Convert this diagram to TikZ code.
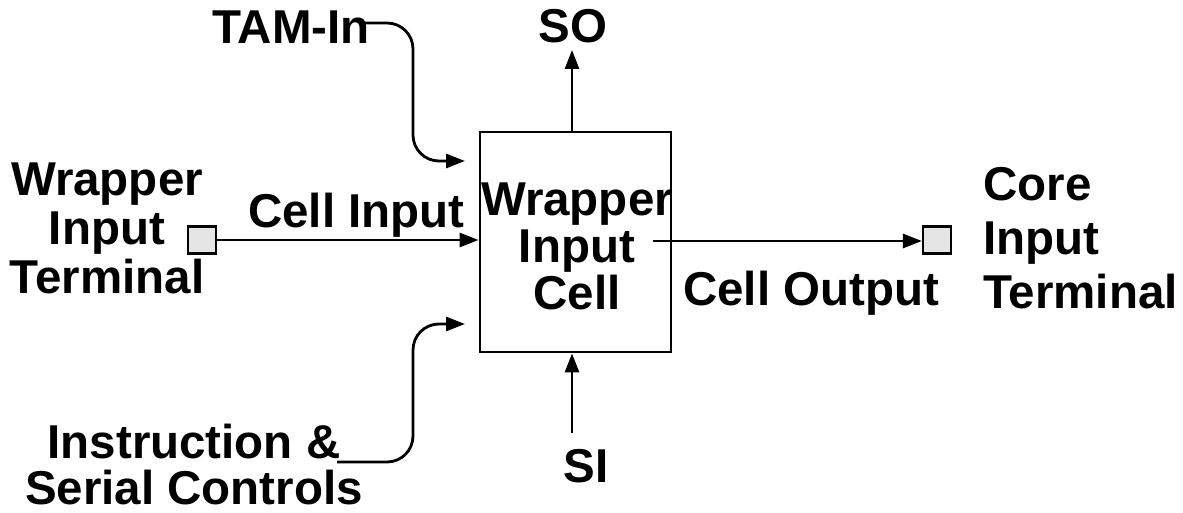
\documentclass[tikz,border=0pt]{standalone}
\usepackage{fontspec}
\setmainfont{Liberation Sans}
\usetikzlibrary{arrows.meta}
\begin{document}
\begin{tikzpicture}[x=1pt,y=-1pt,
  lbl/.style={font=\fontsize{47.5}{48}\selectfont\bfseries, inner sep=0pt},
  wire/.style={line width=2.8pt},
  arr/.style={wire,-{Triangle[length=19pt,width=14pt]}},
  term/.style={draw, line width=2.2pt, fill=black!10, minimum width=28pt, minimum height=27pt, inner sep=0pt},
  cellbox/.style={draw, line width=2.8pt, minimum width=191pt, minimum height=220pt, inner sep=0pt, align=center}]
\useasboundingbox (0,0) rectangle (1183,513);
% box
\node[cellbox] (cell) at (575.5,242) {};
\node[lbl, align=center, font=\fontsize{47.5}{47}\selectfont\bfseries] (celltxt) at (577,246) {Wrapper\\Input\\Cell};
% terminals
\node[term] (win) at (202,240) {};
\node[term] (cin) at (937,240) {};
% labels
\node[lbl, align=center, font=\fontsize{47.5}{49}\selectfont\bfseries] (wlab) at (107,228) {Wrapper\\Input\\Terminal};
\node[lbl, align=left, anchor=west, font=\fontsize{47.5}{54}\selectfont\bfseries] (clab) at (983,238.5) {Core\\Input\\Terminal};
\node[lbl, anchor=base west] (ci) at (248,228) {Cell Input};
\node[lbl, anchor=base west] (co) at (683,305) {Cell Output};
\node[lbl, anchor=base west] (tam) at (212,44) {TAM-In};
\node[lbl, anchor=base] (so) at (573,43) {SO};
\node[lbl, anchor=base] (si) at (586,482) {SI};
\node[lbl, align=center, font=\fontsize{47.5}{46}\selectfont\bfseries] (isc) at (194,465) {Instruction \&\\Serial Controls};
% coordinates
\coordinate (tamA) at (360,23);
\coordinate (tamB) at (465,161);
\coordinate (iscA) at (337,462);
\coordinate (iscB) at (465,324);
\coordinate (coutA) at (653,241);
\coordinate (soB) at (572,50);
\coordinate (siA) at (572,433);
% connectors
\draw[arr] (win.east) -- (cell.west |- win.east);
\draw[arr] (coutA) -- (cin.west |- coutA);
\draw[arr] (cell.north -| soB) -- (soB);
\draw[arr] (siA) -- (cell.south -| siA);
\draw[arr, rounded corners=26pt] (tamA) -- (413,23) -- (413,161) -- (tamB);
\draw[arr, rounded corners=26pt] (iscA) -- (413,462) -- (413,324) -- (iscB);
\end{tikzpicture}
\end{document}
